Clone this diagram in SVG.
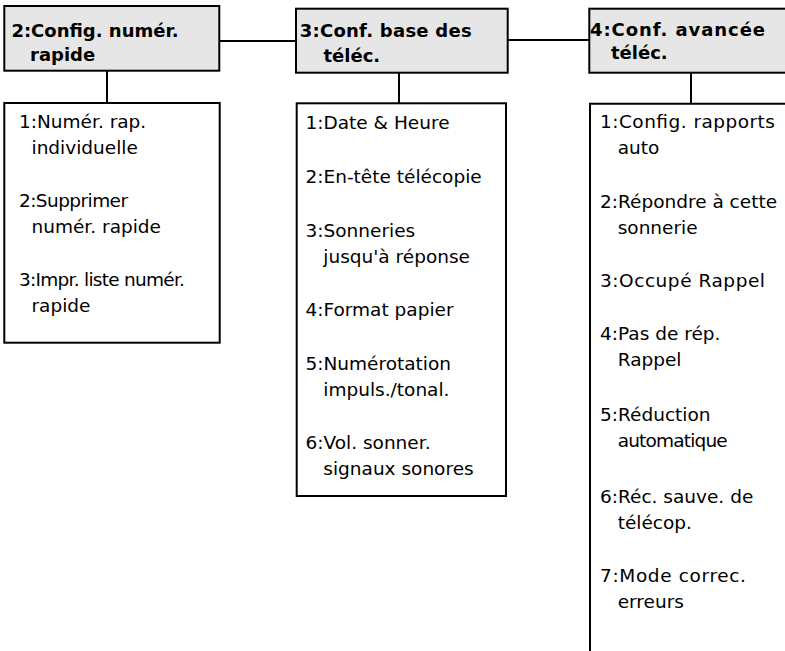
<svg xmlns="http://www.w3.org/2000/svg" width="785" height="651" viewBox="0 0 785 651">
<style>
.hdr{fill:#e6e6e6;stroke:#000;stroke-width:2}
.box{fill:#fff;stroke:#000;stroke-width:2}
.ht{font-family:"DejaVu Sans",sans-serif;font-weight:bold;font-size:18px;fill:#000}
.bt{font-family:"DejaVu Sans",sans-serif;font-size:18.5px;fill:#000}
.con{fill:none;stroke:#000;stroke-width:2}
</style>
<rect width="785" height="651" fill="#fff"/>
<g id="connectors">
<line class="con" x1="219" y1="41" x2="296" y2="41"/>
<line class="con" x1="508" y1="40" x2="589" y2="40"/>
<line class="con" x1="107" y1="71" x2="107" y2="103"/>
<line class="con" x1="399" y1="73" x2="399" y2="103"/>
<line class="con" x1="691" y1="73" x2="691" y2="104"/>
</g>
<g id="h2">
<rect class="hdr" x="4.3" y="6" width="215" height="64.7"/>
<text class="ht" x="11.4" y="36.7">2:Config. numér.</text>
<text class="ht" x="30" y="60.5">rapide</text>
</g>
<g id="h3">
<rect class="hdr" x="296" y="8.7" width="211.7" height="64"/>
<text class="ht" x="299.7" y="36.7" textLength="172" lengthAdjust="spacing">3:Conf. base des</text>
<text class="ht" x="323.5" y="61.7">téléc.</text>
</g>
<g id="h4">
<rect class="hdr" x="589.3" y="8.7" width="220" height="64"/>
<text class="ht" x="590" y="35.5" textLength="175" lengthAdjust="spacing">4:Conf. avancée</text>
<text class="ht" x="611" y="59">téléc.</text>
</g>
<g id="m2">
<rect class="box" x="4.3" y="103" width="215.4" height="239.7"/>
<text class="bt" x="19" y="128">1:Numér. rap.</text>
<text class="bt" x="31.5" y="153.5">individuelle</text>
<text class="bt" x="19" y="207" textLength="109" lengthAdjust="spacing">2:Supprimer</text>
<text class="bt" x="31.5" y="232.5">numér. rapide</text>
<text class="bt" x="19" y="286" textLength="166" lengthAdjust="spacing">3:Impr. liste numér.</text>
<text class="bt" x="31.5" y="311.5">rapide</text>
</g>
<g id="m3">
<rect class="box" x="296.7" y="103.3" width="209.3" height="392.7"/>
<text class="bt" x="305.5" y="129">1:Date &amp; Heure</text>
<text class="bt" x="305.5" y="183">2:En-tête télécopie</text>
<text class="bt" x="305.5" y="237">3:Sonneries</text>
<text class="bt" x="323.3" y="262.5">jusqu'à réponse</text>
<text class="bt" x="305.5" y="316">4:Format papier</text>
<text class="bt" x="305.5" y="370">5:Numérotation</text>
<text class="bt" x="323.3" y="395.5">impuls./tonal.</text>
<text class="bt" x="305.5" y="449">6:Vol. sonner.</text>
<text class="bt" x="323.3" y="474.5">signaux sonores</text>
</g>
<g id="m4">
<path class="box" d="M800 103.7 H590 V651"/>
<text class="bt" x="600" y="128" textLength="175" lengthAdjust="spacing">1:Config. rapports</text>
<text class="bt" x="617.7" y="153.5">auto</text>
<text class="bt" x="600" y="208">2:Répondre à cette</text>
<text class="bt" x="617.7" y="233.5">sonnerie</text>
<text class="bt" x="600" y="287" textLength="165" lengthAdjust="spacing">3:Occupé Rappel</text>
<text class="bt" x="600" y="340">4:Pas de rép.</text>
<text class="bt" x="617.7" y="365.5">Rappel</text>
<text class="bt" x="600" y="421">5:Réduction</text>
<text class="bt" x="617.7" y="446.5" textLength="110" lengthAdjust="spacing">automatique</text>
<text class="bt" x="600" y="503">6:Réc. sauve. de</text>
<text class="bt" x="617.7" y="528.5">télécop.</text>
<text class="bt" x="600" y="582" textLength="146" lengthAdjust="spacing">7:Mode correc.</text>
<text class="bt" x="617.7" y="607.5">erreurs</text>
</g>
</svg>
